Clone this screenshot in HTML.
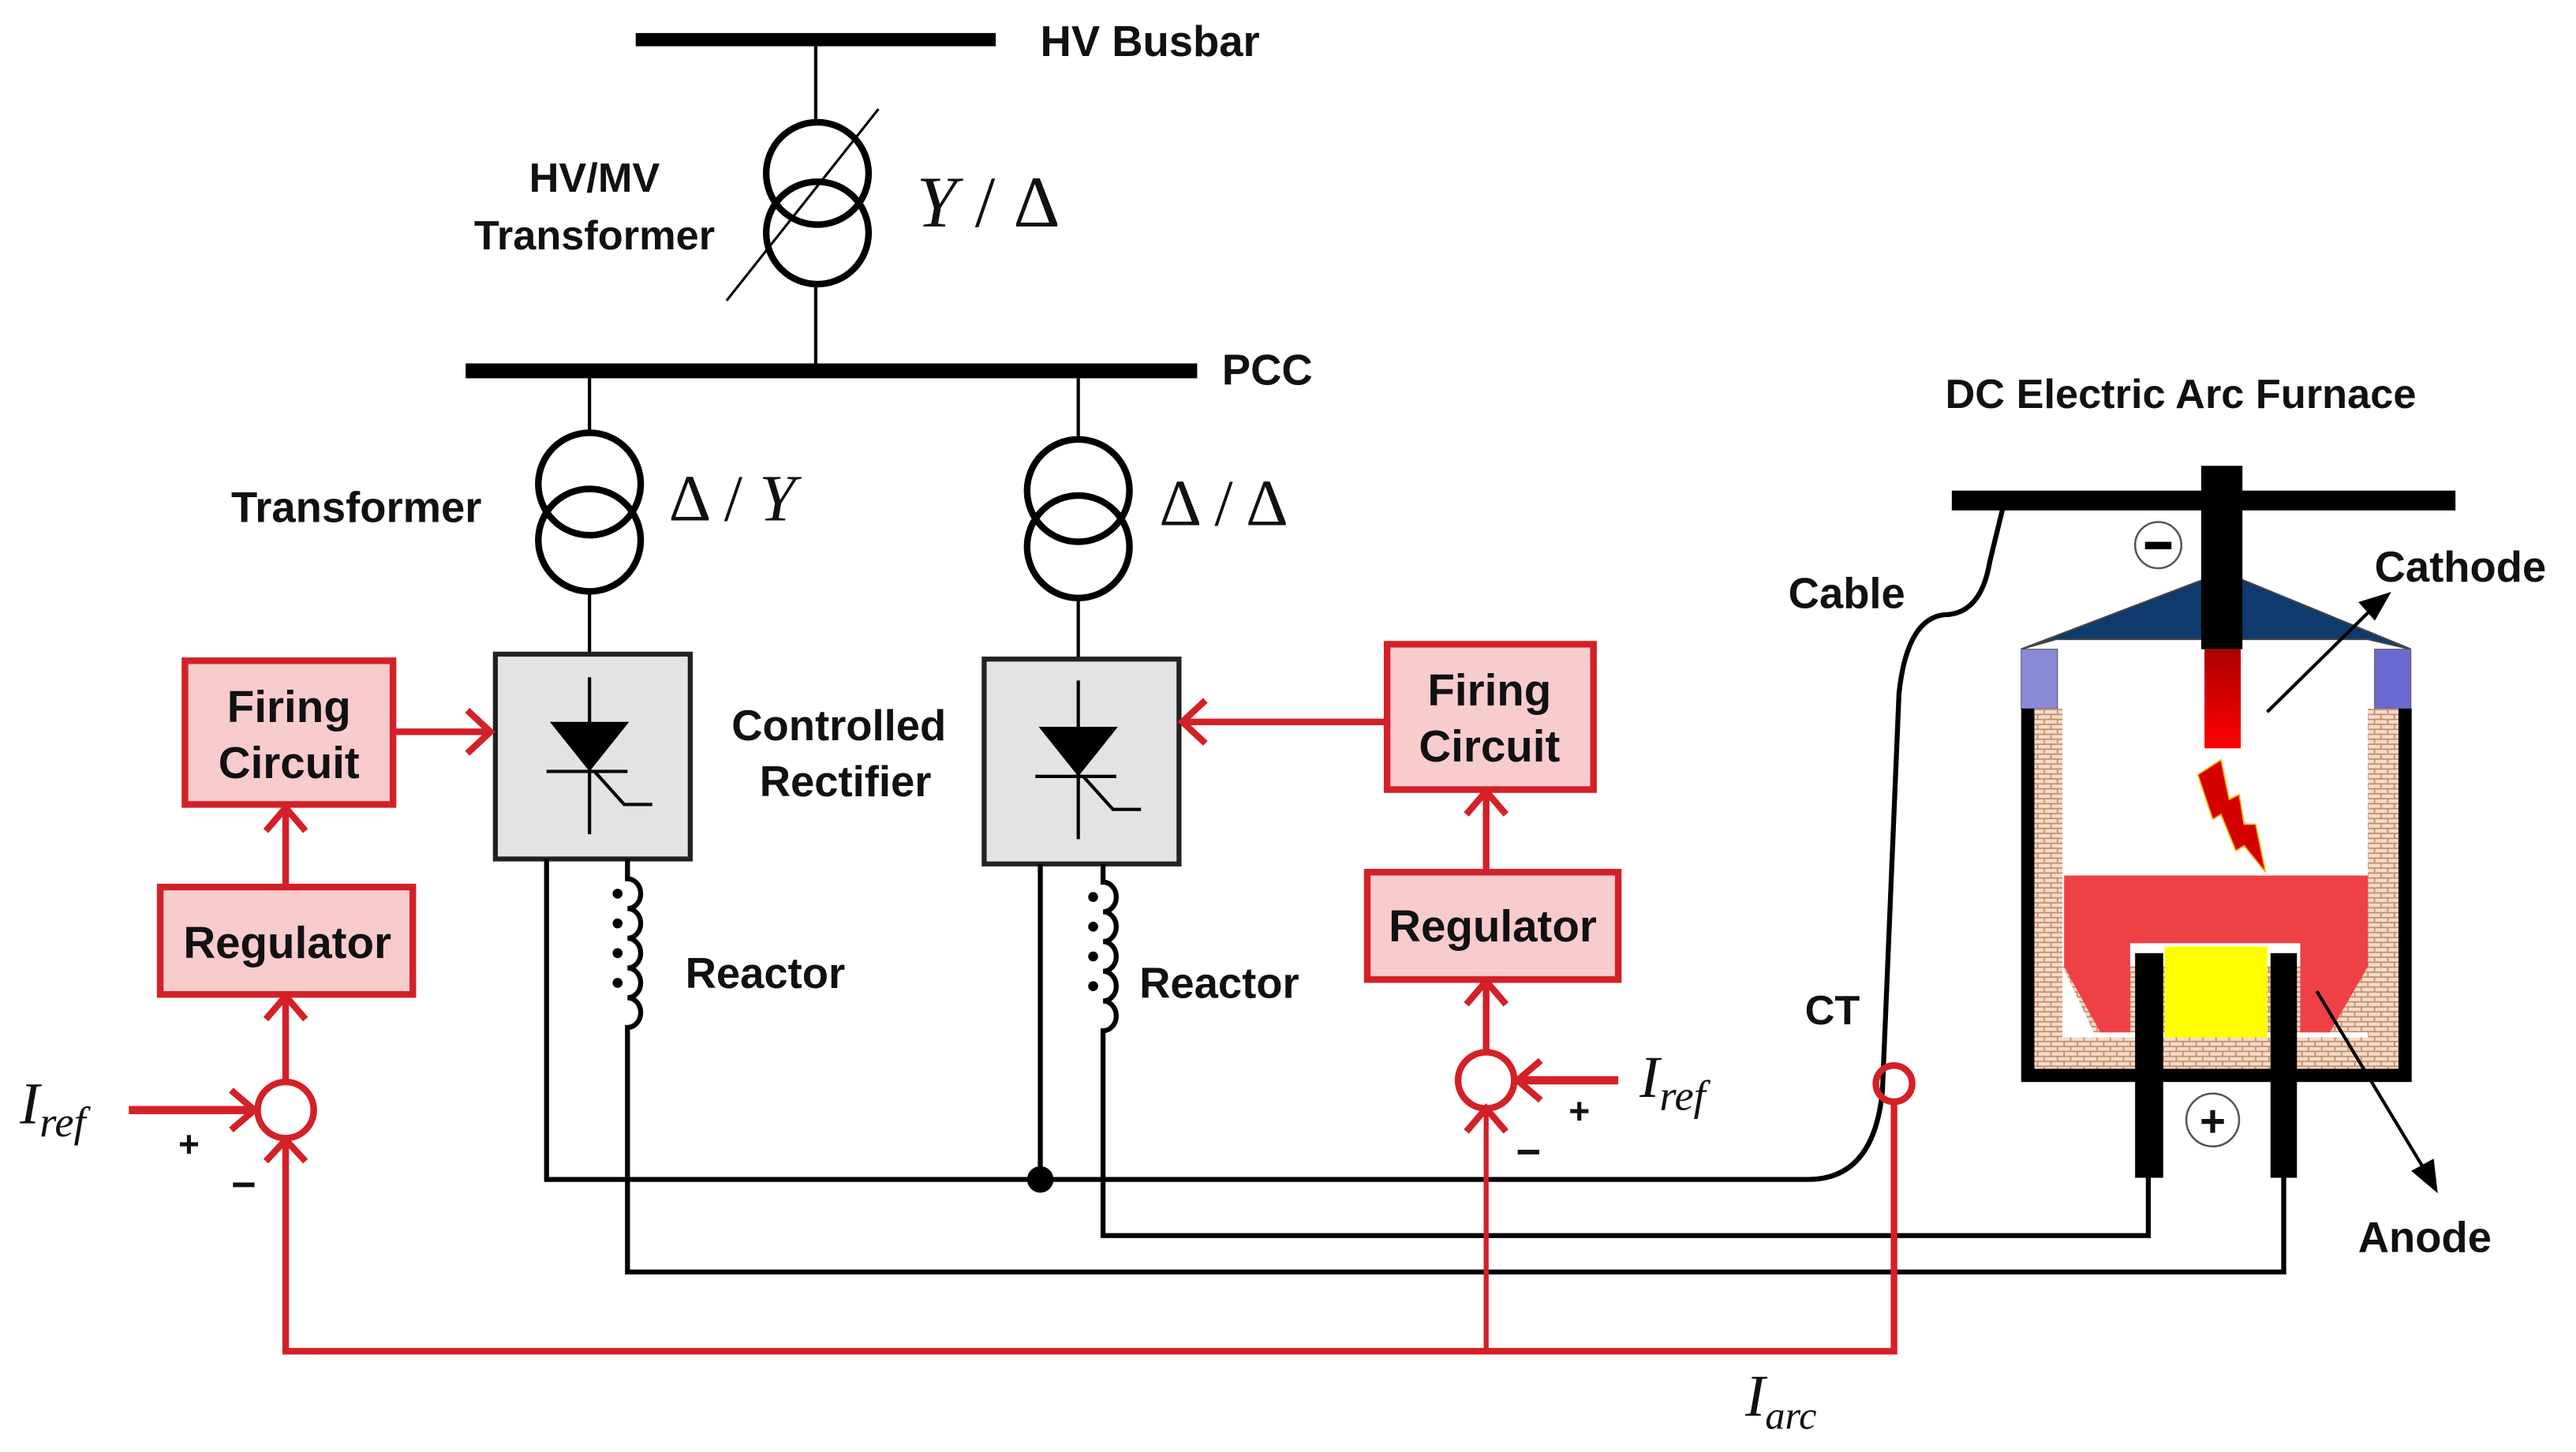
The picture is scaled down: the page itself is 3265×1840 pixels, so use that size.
<!DOCTYPE html>
<html><head><meta charset="utf-8"><style>
html,body{margin:0;padding:0;background:#fff;}
svg{display:block;}
text{font-family:"Liberation Sans",sans-serif;font-weight:bold;fill:#111;}
.m{font-family:"Liberation Serif",serif;font-style:italic;font-weight:normal;}
.u{font-style:normal;}
</style></head><body>
<svg width="3265" height="1840" viewBox="0 0 1560 879" preserveAspectRatio="none" xmlns="http://www.w3.org/2000/svg">
<defs>
<pattern id="brick" width="8" height="6" patternUnits="userSpaceOnUse">
<rect width="8" height="6" fill="#f6dcc8"/>
<path d="M0 0.5H8M0 3.5H8M2 0.5V3.5M6 3.5V6" stroke="#c08a6a" stroke-width="0.8" fill="none"/>
</pattern>
<linearGradient id="rg" x1="0" y1="0" x2="0" y2="1"><stop offset="0" stop-color="#a00"/><stop offset="1" stop-color="#f00"/></linearGradient>
</defs>

<!-- HV busbar -->
<rect x="385" y="20" width="218" height="8" fill="#000"/>
<text x="630" y="34" font-size="26">HV Busbar</text>
<line x1="494" y1="24" x2="494" y2="75" stroke="#000" stroke-width="2"/>
<circle cx="495" cy="105" r="31" fill="none" stroke="#000" stroke-width="4"/>
<circle cx="495" cy="141" r="31" fill="none" stroke="#000" stroke-width="4"/>
<line x1="440" y1="182" x2="532" y2="66" stroke="#000" stroke-width="1.5"/>
<line x1="494" y1="172" x2="494" y2="222" stroke="#000" stroke-width="2"/>
<text x="360" y="116" font-size="25" text-anchor="middle">HV/MV</text>
<text x="360" y="151" font-size="25" text-anchor="middle">Transformer</text>
<text x="555" y="137" font-size="44" class="m">Y <tspan class="u">/ Δ</tspan></text>

<!-- PCC -->
<rect x="282" y="220" width="443" height="9" fill="#000"/>
<text x="740" y="233" font-size="26">PCC</text>

<!-- left transformer -->
<line x1="357" y1="229" x2="357" y2="262" stroke="#000" stroke-width="2"/>
<circle cx="357" cy="293" r="31" fill="none" stroke="#000" stroke-width="4"/>
<circle cx="357" cy="327" r="31" fill="none" stroke="#000" stroke-width="4"/>
<line x1="357" y1="358" x2="357" y2="396" stroke="#000" stroke-width="2"/>
<text x="140" y="316" font-size="26">Transformer</text>
<text x="405" y="315" font-size="40" class="m"><tspan class="u">Δ /</tspan> Y</text>

<!-- right transformer -->
<line x1="653" y1="229" x2="653" y2="266" stroke="#000" stroke-width="2"/>
<circle cx="653" cy="297" r="31" fill="none" stroke="#000" stroke-width="4"/>
<circle cx="653" cy="331" r="31" fill="none" stroke="#000" stroke-width="4"/>
<line x1="653" y1="362" x2="653" y2="399" stroke="#000" stroke-width="2"/>
<text x="702" y="318" font-size="40" class="m u">Δ / Δ</text>

<!-- rectifiers -->
<rect x="300" y="396" width="118" height="124" fill="#e3e3e3" stroke="#222" stroke-width="3"/>
<g stroke="#000" stroke-width="2" fill="none">
<line x1="357" y1="410" x2="357" y2="505"/>
<line x1="331" y1="467" x2="380" y2="467"/>
<polyline points="360,467 378,487 395,487"/>
</g>
<polygon points="333,437 381,437 357,467" fill="#000"/>
<rect x="596" y="399" width="118" height="124" fill="#e3e3e3" stroke="#222" stroke-width="3"/>
<g stroke="#000" stroke-width="2" fill="none">
<line x1="653" y1="412" x2="653" y2="508"/>
<line x1="627" y1="470" x2="676" y2="470"/>
<polyline points="656,470 674,490 691,490"/>
</g>
<polygon points="629,440 677,440 653,470" fill="#000"/>
<text x="508" y="448" font-size="26" text-anchor="middle">Controlled</text>
<text x="512" y="482" font-size="26" text-anchor="middle">Rectifier</text>

<!-- reactors -->
<g stroke="#000" stroke-width="3" fill="none">
<path d="M380,520 V532 a8,9 0 0 1 0,18 a8,9 0 0 1 0,18 a8,9 0 0 1 0,18 a8,9 0 0 1 0,18 a8,9 0 0 1 0,18 V770 H1383 V713"/>
<path d="M668,523 V534 a8,9 0 0 1 0,18 a8,9 0 0 1 0,18 a8,9 0 0 1 0,18 a8,9 0 0 1 0,18 a8,9 0 0 1 0,18 V748 H1301 V713"/>
<path d="M331,520 V714 H1095 Q1135,714 1140,660 L1150,420 Q1155,372 1180,372 Q1200,370 1205,340 L1214,303"/>
<line x1="630" y1="523" x2="630" y2="714"/>
</g>
<g fill="#000">
<circle cx="374" cy="541" r="3"/><circle cx="374" cy="559" r="3"/><circle cx="374" cy="577" r="3"/><circle cx="374" cy="595" r="3"/>
<circle cx="662" cy="543" r="3"/><circle cx="662" cy="561" r="3"/><circle cx="662" cy="579" r="3"/><circle cx="662" cy="597" r="3"/>
<circle cx="630" cy="714" r="8"/>
</g>
<text x="415" y="598" font-size="26">Reactor</text>
<text x="690" y="604" font-size="26">Reactor</text>
<text x="1083" y="368" font-size="26">Cable</text>
<text x="1093" y="620" font-size="25">CT</text>

<!-- red control -->
<g stroke="#d42027" fill="none" stroke-width="4">
<rect x="112" y="400" width="126" height="87" fill="#f8cbcd"/>
<rect x="97" y="537" width="153" height="65" fill="#f8cbcd"/>
<rect x="840" y="390" width="125" height="88" fill="#f8cbcd"/>
<rect x="828" y="528" width="152" height="65" fill="#f8cbcd"/>
<circle cx="173" cy="672" r="17"/>
<circle cx="900" cy="654" r="17"/>
<circle cx="1147" cy="656" r="11"/>
<line x1="238" y1="443" x2="296" y2="443"/><polyline points="283,430 297,443 283,456"/>
<line x1="173" y1="537" x2="173" y2="490"/><polyline points="161,503 173,489 185,503"/>
<line x1="173" y1="655" x2="173" y2="605"/><polyline points="161,617 173,603 185,617"/>
<line x1="78" y1="672" x2="153" y2="672" stroke-width="5"/><polyline points="140,660 154,672 140,684"/>
<line x1="840" y1="437" x2="717" y2="437"/><polyline points="730,424 716,437 730,450"/>
<line x1="900" y1="528" x2="900" y2="481"/><polyline points="888,493 900,479 912,493"/>
<line x1="900" y1="637" x2="900" y2="596"/><polyline points="888,608 900,594 912,608"/>
<line x1="980" y1="654" x2="920" y2="654" stroke-width="5"/><polyline points="933,642 919,654 933,666"/>
<polyline points="173,692 173,818 1147,818 1147,667"/>
<polyline points="161,703 173,690 185,703"/>
<line x1="900" y1="818" x2="900" y2="673" stroke-width="3"/><polyline points="888,685 900,671 912,685"/>
</g>
<text x="175" y="437" font-size="27" text-anchor="middle">Firing</text>
<text x="175" y="471" font-size="27" text-anchor="middle">Circuit</text>
<text x="174" y="580" font-size="27" text-anchor="middle">Regulator</text>
<text x="902" y="427" font-size="27" text-anchor="middle">Firing</text>
<text x="902" y="461" font-size="27" text-anchor="middle">Circuit</text>
<text x="904" y="570" font-size="27" text-anchor="middle">Regulator</text>
<text x="108" y="700" font-size="22">+</text>
<text x="140" y="726" font-size="26">−</text>
<text x="950" y="680" font-size="22">+</text>
<text x="918" y="706" font-size="26">−</text>
<text x="12" y="680" font-size="36" class="m">I<tspan font-size="26" dy="8">ref</tspan></text>
<text x="993" y="664" font-size="36" class="m">I<tspan font-size="26" dy="8">ref</tspan></text>
<text x="1057" y="857" font-size="36" class="m">I<tspan font-size="24" dy="8">arc</tspan></text>

<!-- furnace -->
<text x="1178" y="247" font-size="25">DC Electric Arc Furnace</text>
<rect x="1182" y="297" width="305" height="12" fill="#000"/>
<polygon points="1224,393 1334,351 1358,351 1460,393 1434,387 1245,387" fill="#0e3a6e" stroke="#444" stroke-width="1"/>
<rect x="1224" y="393" width="22" height="36" fill="#8a8ad8" stroke="#555" stroke-width="0.5"/>
<rect x="1438" y="393" width="22" height="36" fill="#6a6ad0" stroke="#555" stroke-width="0.5"/>
<rect x="1232" y="429" width="221" height="218" fill="url(#brick)"/>
<rect x="1249" y="429" width="185" height="199" fill="#fff"/>
<polygon points="1249,585 1268,625 1434,625 1434,585" fill="url(#brick)"/>
<polygon points="1250,530 1434,530 1434,585 1411,625 1393,625 1393,571 1290,571 1290,625 1272,625 1250,585" fill="#ee4146"/>
<rect x="1311" y="573" width="62" height="55" fill="#ffff00"/>
<path d="M1228,429 V651 H1456.5 V429" fill="none" stroke="#000" stroke-width="8"/>
<rect x="1293" y="577" width="17" height="136" fill="#000"/>
<rect x="1375" y="577" width="16" height="136" fill="#000"/>
<rect x="1333" y="282" width="25" height="111" fill="#000"/>
<rect x="1335" y="393" width="22" height="60" fill="url(#rg)"/>
<polygon points="1331,469 1345,460 1350,484 1356,481 1359,499 1366,499 1372,528 1359,512 1354,515 1345,493 1340,496" fill="#d40000" stroke="#ffb000" stroke-width="0.8"/>
<circle cx="1307" cy="330" r="14" fill="#fff" stroke="#555" stroke-width="1.2"/>
<rect x="1299" y="328" width="16" height="4.5" fill="#000"/>
<circle cx="1340" cy="678" r="16" fill="#fff" stroke="#555" stroke-width="1.2"/>
<text x="1340" y="688" font-size="27" text-anchor="middle">+</text>
<g stroke="#000" stroke-width="2" fill="#000">
<line x1="1373" y1="431" x2="1438" y2="367"/>
<polygon points="1446,360 1430,365 1438,374"/>
<line x1="1403" y1="600" x2="1470" y2="711"/>
<polygon points="1475,720 1462,709 1473,703"/>
</g>
<text x="1438" y="352" font-size="26">Cathode</text>
<text x="1428" y="758" font-size="26">Anode</text>
</svg>
</body></html>
